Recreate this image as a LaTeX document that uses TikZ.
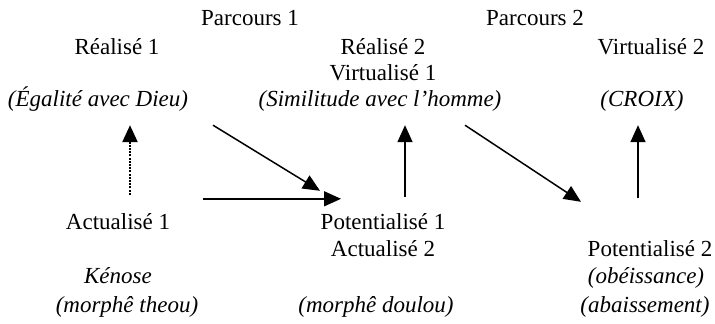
\documentclass[tikz,border=0pt]{standalone}
\usepackage{fontspec}
\setmainfont{Liberation Serif}
\usepackage{tikz}
\usetikzlibrary{arrows.meta,calc}

\begin{document}
\begin{tikzpicture}[x=1pt,y=1pt,
    lbl/.style={inner sep=0pt,anchor=base,text height=16pt,text depth=6pt,
                font=\fontsize{23}{27}\selectfont},
    ilbl/.style={lbl,font=\fontsize{23}{27}\selectfont\itshape},
    arr/.style={line width=1.5pt,-{Triangle[length=17pt,width=15pt]}},
    dotarr/.style={arr,line width=2.4pt,dash pattern=on 2pt off 1.2pt}]
  \useasboundingbox (0,0) rectangle (715,324);
  % top row
  \node[lbl] (par1) at (250,298) {Parcours 1};
  \node[lbl] (par2) at (535,298) {Parcours 2};
  \node[lbl] (rea1) at (117,269) {Réalisé 1};
  \node[lbl] (rea2) at (383,269) {Réalisé 2};
  \node[lbl] (vir2) at (651,269) {Virtualisé 2};
  \node[lbl] (vir1) at (383,243) {Virtualisé 1};
  \node[ilbl] (egal) at (98,217) {(Égalité avec Dieu)};
  \node[ilbl] (sim) at (380,217) {(Similitude avec l’homme)};
  \node[ilbl] (croix) at (642,217) {(CROIX)};
  % bottom row
  \node[lbl] (act1) at (118,94) {Actualisé 1};
  \node[lbl] (pot1) at (383,94) {Potentialisé 1};
  \node[lbl] (act2) at (383,67) {Actualisé 2};
  \node[lbl] (pot2) at (650,67) {Potentialisé 2};
  \node[ilbl] (keno) at (118,40) {Kénose};
  \node[ilbl] (obei) at (646,40) {(obéissance)};
  \node[ilbl] (theou) at (127,12) {(morphê theou)};
  \node[ilbl] (doulou) at (376,12) {(morphê doulou)};
  \node[ilbl] (abai) at (645,12) {(abaissement)};
  % arrows
  \draw[dotarr] ([xshift=12pt,yshift=19pt]act1.north) -- ([xshift=32pt,yshift=-12pt]egal.south);
  \draw[arr] ([xshift=85pt,yshift=15pt]act1.north) -- ([xshift=-42pt,yshift=15pt]pot1.north);
  \draw[arr] ([xshift=115pt,yshift=-12pt]egal.south) -- ([xshift=-63pt,yshift=23pt]pot1.north);
  \draw[arr] ([xshift=22pt,yshift=17pt]pot1.north) -- ([xshift=25pt,yshift=-12pt]sim.south);
  \draw[arr] ([xshift=85pt,yshift=-12pt]sim.south) -- ([xshift=-69pt,yshift=39pt]pot2.north);
  \draw[arr] ([xshift=-12pt,yshift=43pt]pot2.north) -- ([xshift=-4pt,yshift=-12pt]croix.south);
\end{tikzpicture}
\end{document}
